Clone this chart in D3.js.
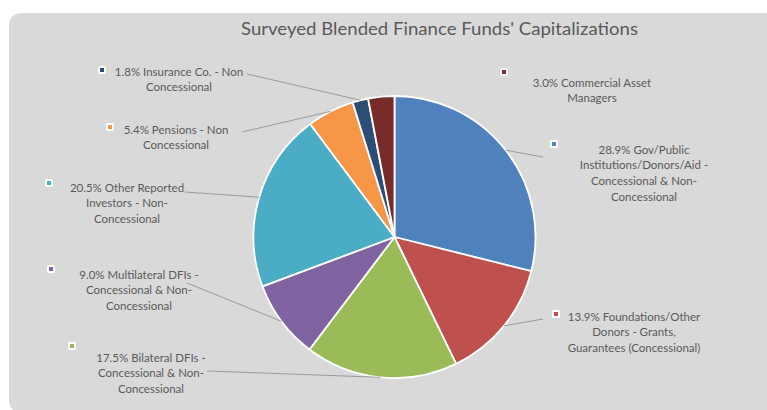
<!DOCTYPE html>
<html>
<head>
<meta charset="utf-8">
<script src="https://cdn.jsdelivr.net/npm/d3@7/dist/d3.min.js"></script>
<style>
  html, body { margin: 0; padding: 0; background: #ffffff; }
  svg { display: block; }
  text { font-family: Lato, "Open Sans", sans-serif; fill: #595959; }
</style>
</head>
<body>
<svg id="chart" width="767" height="410"></svg>
<script>
// Funding sources, in clockwise order from 12 o'clock
const categories = [
  "Gov/Public Institutions/Donors/Aid - Concessional & Non-Concessional",
  "Foundations/Other Donors - Grants, Guarantees (Concessional)",
  "Bilateral DFIs - Concessional & Non-Concessional",
  "Multilateral DFIs - Concessional & Non-Concessional",
  "Other Reported Investors - Non-Concessional",
  "Pensions - Non Concessional",
  "Insurance Co. - Non Concessional",
  "Commercial Asset Managers"
];
const shares = [28.9, 13.9, 17.5, 9.0, 20.5, 5.4, 1.8, 3.0];

// Label text as it wraps on the chart
const labelLines = [
  ["28.9% Gov/Public", "Institutions/Donors/Aid -", "Concessional & Non-", "Concessional"],
  ["13.9% Foundations/Other", "Donors - Grants,", "Guarantees (Concessional)"],
  ["17.5% Bilateral DFIs -", "Concessional & Non-", "Concessional"],
  ["9.0% Multilateral DFIs -", "Concessional & Non-", "Concessional"],
  ["20.5% Other Reported", "Investors - Non-", "Concessional"],
  ["5.4% Pensions  - Non", "Concessional"],
  ["1.8% Insurance Co. - Non", "Concessional"],
  ["3.0% Commercial Asset", "Managers"]
];

const title = "Surveyed Blended Finance Funds' Capitalizations";

// Styling
const colors = ["#4F81BD", "#C0504D", "#9BBB59", "#8064A2", "#4BACC6", "#F79646", "#2C4D75", "#772C2A"];

// Label placement: text centre x, first line y, legend key x/y, leader start (null = no leader)
const labelLayout = [
  { cx: 644, y: 149, kx: 554, ky: 144, lead: [543, 157] },
  { cx: 634, y: 316, kx: 556, ky: 314, lead: [543, 319] },
  { cx: 151, y: 357, kx: 72,  ky: 346, lead: [207, 371] },
  { cx: 139, y: 274, kx: 51,  ky: 269, lead: [187, 283] },
  { cx: 127, y: 187, kx: 49,  ky: 183, lead: [185, 192] },
  { cx: 176, y: 129, kx: 110, ky: 127, lead: [242, 132] },
  { cx: 179, y: 71,  kx: 102, ky: 70,  lead: [247, 74] },
  { cx: 592, y: 82,  kx: 504, ky: 72,  lead: null }
];

const W = 767, H = 410;
const cx = 394.5, cy = 237, R = 141;
const lineGap = 15.7;

const svg = d3.select("#chart");

// Chart area panel (rounded at the left corners)
svg.append("rect")
  .attr("x", 9).attr("y", 13)
  .attr("width", W + 20).attr("height", 400)
  .attr("rx", 12).attr("ry", 12)
  .attr("fill", "#D9D9D9");
svg.append("rect")
  .attr("x", 40).attr("y", 13)
  .attr("width", W).attr("height", H)
  .attr("fill", "#D9D9D9");

svg.append("text")
  .attr("x", 439.5).attr("y", 28)
  .attr("text-anchor", "middle")
  .attr("dominant-baseline", "central")
  .attr("textLength", 397)
  .attr("lengthAdjust", "spacingAndGlyphs")
  .style("font-size", "17.5px")
  .text(title);

const pie = d3.pie().sort(null).value(d => d)(shares);
const arc = d3.arc().innerRadius(0).outerRadius(R);

const g = svg.append("g").attr("transform", `translate(${cx},${cy})`);

g.selectAll("path.slice")
  .data(pie)
  .join("path")
  .attr("class", "slice")
  .attr("d", arc)
  .attr("fill", (d, i) => colors[i])
  .attr("stroke", "#ffffff")
  .attr("stroke-width", 1.8)
  .attr("stroke-linejoin", "round");

// Leader lines from each label to the outer edge at the slice's mid-angle
const edgePoint = d => {
  const a = (d.startAngle + d.endAngle) / 2;
  return [cx + R * Math.sin(a), cy - R * Math.cos(a)];
};

svg.append("g").selectAll("line")
  .data(pie.filter((d, i) => labelLayout[i].lead))
  .join("line")
  .attr("x1", d => labelLayout[d.index].lead[0])
  .attr("y1", d => labelLayout[d.index].lead[1])
  .attr("x2", d => edgePoint(d)[0])
  .attr("y2", d => edgePoint(d)[1])
  .attr("stroke", "#9a9a9a")
  .attr("stroke-width", 1);

// Labels with legend keys
const labels = svg.append("g").selectAll("g.label")
  .data(pie)
  .join("g")
  .attr("class", "label");

labels.append("rect")
  .attr("x", d => labelLayout[d.index].kx - 4)
  .attr("y", d => labelLayout[d.index].ky - 4)
  .attr("width", 8).attr("height", 8)
  .attr("rx", 1.5)
  .attr("fill", "#ffffff");

labels.append("rect")
  .attr("x", d => labelLayout[d.index].kx - 2)
  .attr("y", d => labelLayout[d.index].ky - 2)
  .attr("width", 4).attr("height", 4)
  .attr("fill", d => colors[d.index]);

labels.each(function(d) {
  const L = labelLayout[d.index];
  const t = d3.select(this).append("text")
    .attr("text-anchor", "middle")
    .style("font-size", "11.5px");
  labelLines[d.index].forEach((s, k) => {
    t.append("tspan")
      .attr("x", L.cx)
      .attr("y", L.y + k * lineGap)
      .attr("dominant-baseline", "central")
      .text(s);
  });
});
</script>
</body>
</html>
